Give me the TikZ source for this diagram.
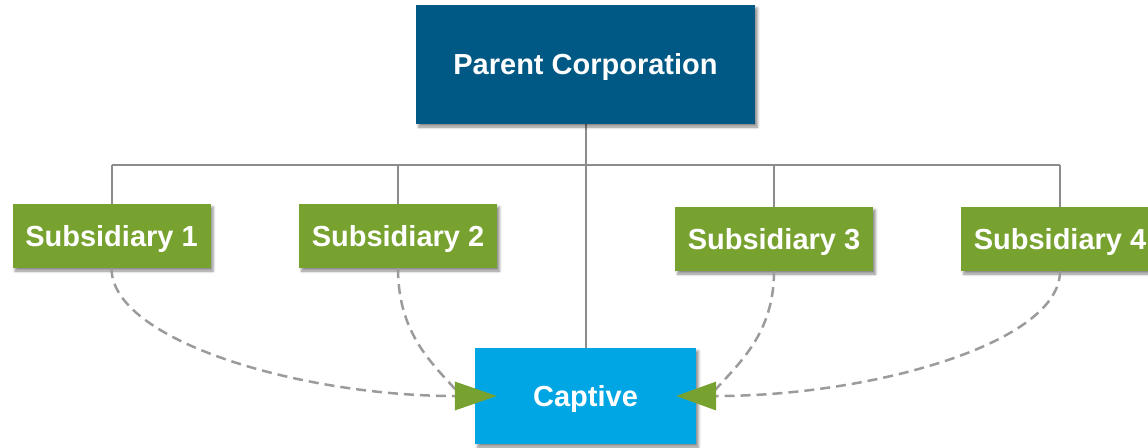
\documentclass[tikz,border=0pt]{standalone}
\usepackage{fontspec}
\setmainfont{Liberation Sans}
\usetikzlibrary{shadows.blur,backgrounds}
\definecolor{parentblue}{RGB}{0,88,132}
\definecolor{subgreen}{RGB}{120,162,48}
\definecolor{captblue}{RGB}{0,166,228}
\definecolor{linegray}{RGB}{140,140,140}
\definecolor{dashgray}{RGB}{155,155,155}
\begin{document}
\begin{tikzpicture}[x=1pt,y=-1pt,
  box/.style={draw=none, text=white, font=\bfseries\fontsize{29}{34}\selectfont, inner sep=0pt,
    text height=20.5pt, text depth=0pt,
    blur shadow={shadow xshift=2.5pt, shadow yshift=-3pt, shadow blur radius=2.5pt, shadow opacity=45}},
  parentbox/.style={box, fill=parentblue, minimum width=339pt, minimum height=119pt},
  subbox/.style={box, fill=subgreen, minimum width=198pt, minimum height=64pt},
  captbox/.style={box, fill=captblue, minimum width=221pt, minimum height=96pt},
  tree/.style={draw=linegray, line width=2pt},
  feed/.style={draw=dashgray, line width=2.5pt, dash pattern=on 10pt off 6pt},
  tiptri/.style={fill=subgreen}]
\useasboundingbox (0,0) rectangle (1148,447);
\node[parentbox] (parent) at (585.5,64.5) {Parent Corporation};
\node[subbox] (s1) at (111.5,236) {Subsidiary 1};
\node[subbox] (s2) at (398,236) {Subsidiary 2};
\node[subbox] (s3) at (774,239) {Subsidiary 3};
\node[subbox] (s4) at (1060,239) {Subsidiary 4};
\node[captbox] (capt) at (585.5,396) {Captive};
\coordinate (bus) at (585,165);
\begin{scope}[on background layer]
  \draw[tree] (parent.south) -- (capt.north);
  \draw[tree] (s1.north |- bus) -- (s4.north |- bus);
  \foreach \s in {s1,s2,s3,s4} \draw[tree] (\s.north |- bus) -- (\s.north);
\end{scope}
\coordinate (baseL) at ([xshift=-20pt]capt.west);
\coordinate (tipL) at ([xshift=22pt]capt.west);
\coordinate (baseR) at ([xshift=20pt]capt.east);
\coordinate (tipR) at ([xshift=-20pt]capt.east);
\coordinate (entryL) at ([xshift=2pt,yshift=5pt]baseL);
\coordinate (entryR) at ([xshift=-2pt,yshift=5pt]baseR);
\draw[feed] (s1.south) .. controls +(0,72) and +(-155,0) .. (baseL);
\draw[feed] (s2.south) .. controls +(0,65) and +(-25,-28) .. (entryL);
\draw[feed] (s4.south) .. controls +(0,72) and +(155,0) .. (baseR);
\draw[feed] (s3.south) .. controls +(0,62) and +(25,-28) .. (entryR);
\fill[tiptri] (tipL) -- ([yshift=14.5pt]baseL) -- ([yshift=-14.5pt]baseL) -- cycle;
\fill[tiptri] (tipR) -- ([yshift=14.5pt]baseR) -- ([yshift=-14.5pt]baseR) -- cycle;
\end{tikzpicture}
\end{document}
